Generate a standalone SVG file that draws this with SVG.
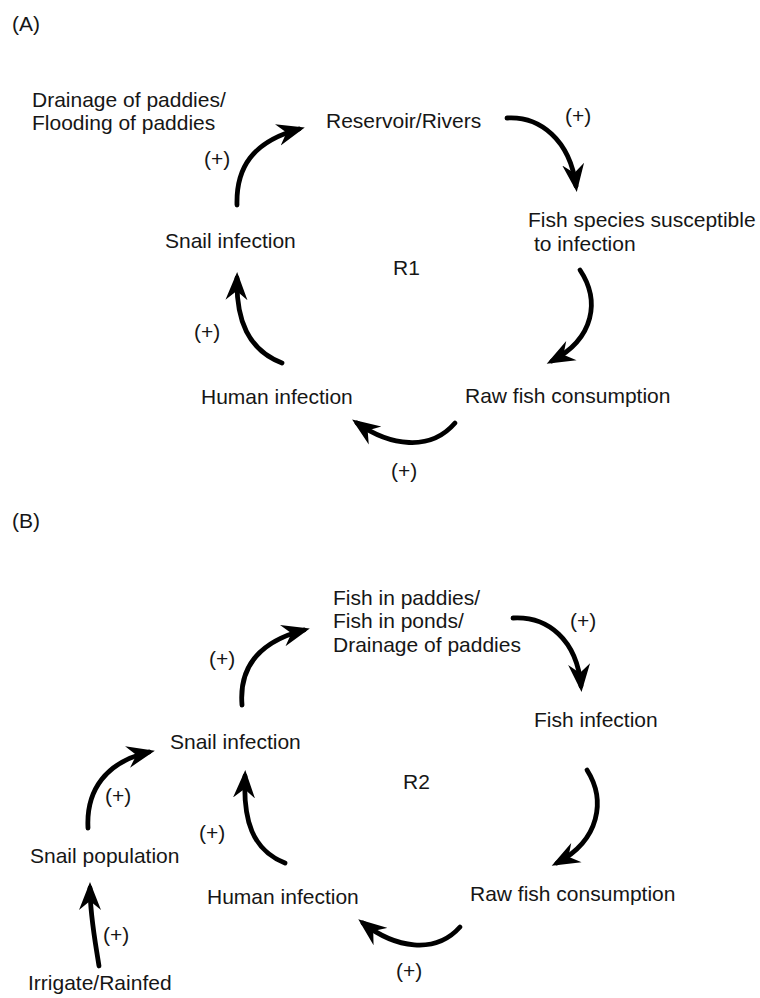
<svg xmlns="http://www.w3.org/2000/svg" width="760" height="998" viewBox="0 0 760 998">
  <defs>
    <style>
      .lbl { font-family: "Liberation Sans", Arial, sans-serif; font-size: 21px; fill: #161616; }
      .sign { font-family: "Liberation Sans", Arial, sans-serif; font-size: 21px; fill: #161616; }
      .link { fill: none; stroke: #000; stroke-width: 4.8; stroke-linecap: round; marker-end: url(#head); }
    </style>
    <!-- barbed arrowhead; tip sits 6px beyond the path end -->
    <marker id="head" viewBox="0 -12 29 24" refX="22" refY="0" markerWidth="29" markerHeight="24" markerUnits="userSpaceOnUse" orient="auto">
      <path d="M0,-11 L28,0 L0,11 L9,0 Z" fill="#000"/>
    </marker>
  </defs>
  <rect width="760" height="998" fill="#fff"/>

  <!-- Panel A -->
  <text class="lbl" x="12" y="31">(A)</text>
  <g id="a-drainage"><text class="lbl" x="32" y="107">Drainage of paddies/</text><text class="lbl" x="32" y="130">Flooding of paddies</text></g>
  <g id="a-reservoir"><text class="lbl" x="326" y="128">Reservoir/Rivers</text></g>
  <g id="a-fish"><text class="lbl" x="528" y="227">Fish species susceptible</text><text class="lbl" x="534" y="251">to infection</text></g>
  <g id="a-raw"><text class="lbl" x="465" y="403">Raw fish consumption</text></g>
  <g id="a-human"><text class="lbl" x="201" y="404">Human infection</text></g>
  <g id="a-snail"><text class="lbl" x="165" y="248">Snail infection</text></g>
  <g id="a-loop"><text class="lbl" x="393" y="275">R1</text></g>

  <g id="a-links">
    <path class="link" d="M237,205 C236,168 252,142 299,129"/>
    <path class="link" d="M507,118 C540,116 570,140 576,186"/>
    <path class="link" d="M580,270 C600,300 595,338 552,361"/>
    <path class="link" d="M455,423 C430,452 390,446 357,423"/>
    <path class="link" d="M282,363 C248,350 236,320 237,278"/>
    <text class="sign" x="204" y="166">(+)</text>
    <text class="sign" x="565" y="123">(+)</text>
    <text class="sign" x="194" y="339">(+)</text>
    <text class="sign" x="391" y="478">(+)</text>
  </g>

  <!-- Panel B -->
  <text class="lbl" x="12" y="528">(B)</text>
  <g id="b-fishpaddies"><text class="lbl" x="333" y="605">Fish in paddies/</text><text class="lbl" x="333" y="628">Fish in ponds/</text><text class="lbl" x="333" y="652">Drainage of paddies</text></g>
  <g id="b-fishinf"><text class="lbl" x="534" y="727">Fish infection</text></g>
  <g id="b-raw"><text class="lbl" x="470" y="901">Raw fish consumption</text></g>
  <g id="b-human"><text class="lbl" x="207" y="904">Human infection</text></g>
  <g id="b-snail"><text class="lbl" x="170" y="749">Snail infection</text></g>
  <g id="b-snailpop"><text class="lbl" x="30" y="863">Snail population</text></g>
  <g id="b-irrigate"><text class="lbl" x="28" y="990">Irrigate/Rainfed</text></g>
  <g id="b-loop"><text class="lbl" x="403" y="789">R2</text></g>

  <g id="b-links">
    <path class="link" d="M242,705 C239,668 258,642 304,630"/>
    <path class="link" d="M513,618 C548,616 577,640 581,686"/>
    <path class="link" d="M587,770 C606,800 600,840 557,863"/>
    <path class="link" d="M460,927 C435,955 395,948 363,923"/>
    <path class="link" d="M285,863 C252,850 243,820 245,776"/>
    <path class="link" d="M88,828 C86,790 106,762 149,752"/>
    <path class="link" d="M99,966 C95,940 90,915 90,888"/>
    <text class="sign" x="209" y="666">(+)</text>
    <text class="sign" x="570" y="628">(+)</text>
    <text class="sign" x="105" y="803">(+)</text>
    <text class="sign" x="199" y="840">(+)</text>
    <text class="sign" x="103" y="942">(+)</text>
    <text class="sign" x="396" y="978">(+)</text>
  </g>
</svg>
